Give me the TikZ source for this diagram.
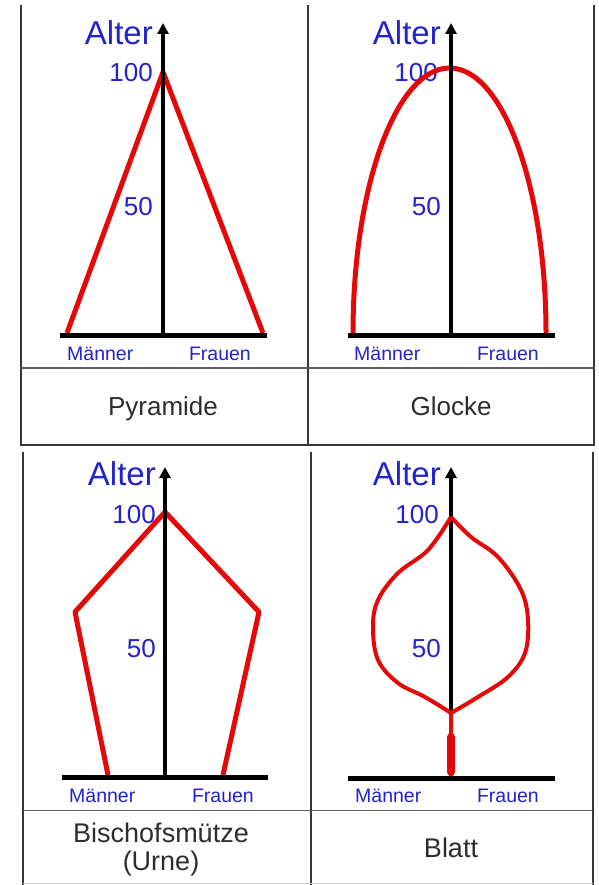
\documentclass[tikz,border=0pt]{standalone}
\usepackage{fontspec}
\setmainfont{Liberation Sans}
\usetikzlibrary{arrows.meta}
\definecolor{axblue}{RGB}{35,35,205}
\definecolor{curvered}{RGB}{228,8,8}
\definecolor{captext}{RGB}{45,45,45}
\definecolor{rulecol}{RGB}{55,55,55}
\begin{document}
\begin{tikzpicture}[x=1pt,y=-1pt,
 alter/.style={font=\fontsize{33}{33}\selectfont,text=axblue,anchor=base east,inner sep=0pt},
 num/.style={font=\fontsize{26}{26}\selectfont,text=axblue,anchor=base east,inner sep=0pt},
 sexl/.style={font=\fontsize{19.5}{20}\selectfont,text=axblue,anchor=base west,inner sep=0pt},
 sexr/.style={font=\fontsize{19.5}{20}\selectfont,text=axblue,anchor=base east,inner sep=0pt},
 captxt/.style={font=\fontsize{26}{30}\selectfont,text=captext,anchor=base,inner sep=0pt,align=center},
 yaxis/.style={line width=4pt,-{Triangle[width=11pt,length=11pt]}},
 xaxis/.style={line width=5pt},
 curve/.style={curvered,line width=5pt,line join=round},
 leaf/.style={curvered,line width=4pt,line join=round},
 frame/.style={rulecol,line width=2pt},
 sepline/.style={rulecol!80,line width=1.6pt}]

\useasboundingbox[fill=white] (0,0) rectangle (598,885);

% ---------- frames ----------
\draw[frame] (21,5) -- (21,445);
\draw[frame] (308,5) -- (308,445);
\draw[frame] (594,5) -- (594,445);
\draw[sepline] (21,368) -- (594,368);
\draw[frame] (20,444.5) -- (595,444.5);
\draw[frame] (23,452) -- (23,885);
\draw[frame] (311,452) -- (311,885);
\draw[frame] (593,452) -- (593,885);
\draw[sepline] (23,810.5) -- (593,810.5);
\draw[rulecol!25,line width=1pt] (23,883.5) -- (593,883.5);

% ---------- panel 1: Pyramide ----------
\coordinate (o1) at (163,335); \coordinate (t1) at (163,23);
\coordinate (l1) at (60,335);  \coordinate (r1) at (267,335);
\node[alter] (alter1) at (153,45) {Alter};
\node[num] (h1) at (153,82) {100};
\node[num] (f1) at (153,215) {50};
\draw[curve] (67,333) -- (163,72) -- (263,333);
\draw[xaxis] (l1) -- (r1);
\draw[yaxis] (o1) -- (t1);
\node[sexl] (m1) at (67,360) {Männer};
\node[sexr] (w1) at (251,360) {Frauen};
\node[captxt] (c1) at (163,415) {Pyramide};

% ---------- panel 2: Glocke ----------
\coordinate (o2) at (451,335); \coordinate (t2) at (451,23);
\coordinate (l2) at (348,335); \coordinate (r2) at (555,335);
\node[alter] (alter2) at (441,45) {Alter};
\node[num] (h2) at (438,82) {100};
\node[num] (f2) at (441,215) {50};
\draw[curve] (353,333) arc[start angle=180,end angle=0,x radius=96.5pt,y radius=265pt];
\draw[xaxis] (l2) -- (r2);
\draw[yaxis] (o2) -- (t2);
\node[sexl] (m2) at (354,360) {Männer};
\node[sexr] (w2) at (539,360) {Frauen};
\node[captxt] (c2) at (451,415) {Glocke};

% ---------- panel 3: Bischofsmuetze ----------
\coordinate (o3) at (165,777); \coordinate (t3) at (165,467);
\coordinate (l3) at (62,777);  \coordinate (r3) at (268,777);
\node[alter] (alter3) at (156,485) {Alter};
\node[num] (h3) at (156,523) {100};
\node[num] (f3) at (156,657) {50};
\draw[curve] (108,775) -- (75,612) -- (165,512) -- (259,612) -- (223,775);
\draw[xaxis] (l3) -- (r3);
\draw[yaxis] (o3) -- (t3);
\node[sexl] (m3) at (69,802) {Männer};
\node[sexr] (w3) at (254,802) {Frauen};
\node[captxt,font=\fontsize{27}{28}\selectfont] (c3) at (161,842) {Bischofsmütze};
\node[captxt,font=\fontsize{27}{28}\selectfont] (c3b) at (161,870) {(Urne)};

% ---------- panel 4: Blatt ----------
\coordinate (o4) at (451,778); \coordinate (t4) at (451,467);
\coordinate (l4) at (348,778); \coordinate (r4) at (555,778);
\node[alter] (alter4) at (441,485) {Alter};
\node[num] (h4) at (439,523) {100};
\node[num] (f4) at (441,657) {50};
\draw[xaxis] (l4) -- (r4);
\draw[yaxis] (o4) -- (t4);
\draw[leaf] plot[smooth,tension=0.6] coordinates {(451,517) (428,550) (398,573) (378,600) (373,627) (378,660) (398,683) (425,697) (451,713)};
\draw[leaf] plot[smooth,tension=0.6] coordinates {(451,517) (471,537) (498,557) (521,590) (528,620) (525,653) (508,677) (478,697) (451,713)};
\draw[curvered,line width=4.5pt] (451,712) -- (451,776);
\draw[curvered,line width=8pt,line cap=round] (451,737) -- (451,772);
\node[sexl] (m4) at (355,802) {Männer};
\node[sexr] (w4) at (539,802) {Frauen};
\node[captxt,font=\fontsize{27}{28}\selectfont] (c4) at (451,857) {Blatt};
\end{tikzpicture}
\end{document}
